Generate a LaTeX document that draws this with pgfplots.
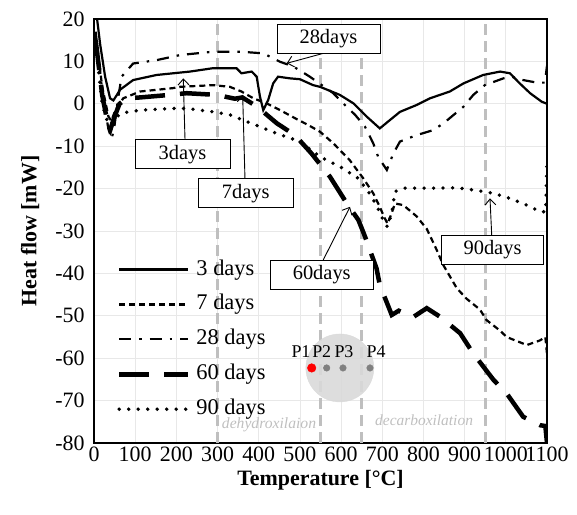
\documentclass[border=0pt]{standalone}
\usepackage{fontspec}
\setmainfont{Liberation Serif}
\usepackage{pgfplots}
\pgfplotsset{compat=1.18}
\usetikzlibrary{arrows.meta}

\pgfplotstableread{
x y
5 22
15 14
27 6.4
39 1.3
47 0.8
55 2.0
63 3.3
95 5.6
152 6.8
233 7.6
289 8.4
346 8.4
358 7.2
383 7.6
395 6.4
403 1.7
411 -1.5
423 0.9
435 4.8
447 6.4
476 6.0
500 5.8
532 4.4
549 4.0
597 2.1
630 0.1
662 -3.0
694 -5.8
719 -3.8
743 -1.9
783 -0.3
816 1.3
840 2.1
864 2.9
897 4.8
945 6.8
986 7.6
1010 7.2
1034 4.8
1059 2.5
1087 0.5
1100 0
}\dthree

\pgfplotstableread{
x y
4 16
20 4
35 -3
42 -4
52 -1.5
71 1.3
112 2.9
192 3.7
209 4.0
290 4.4
330 4.0
358 2.9
387 1.3
419 0.1
452 -1.5
492 -3.6
520 -5.0
549 -6.6
581 -9.3
621 -13.3
654 -17.6
678 -21.1
694 -24.3
705 -26.8
713 -28.3
722 -26.0
731 -23.5
751 -23.9
783 -26.5
808 -29.5
830 -34.0
848 -38.0
881 -43.5
905 -46.0
937 -48.5
953 -51.0
986 -53.5
1002 -55.0
1051 -56.9
1083 -55.8
1096 -55.0
1100 -59
}\dseven

\pgfplotstableread{
x y
4 17
20 3
35 -6
43 -8.3
50 -5
58 1
67 6.4
95 9.5
152 10.3
209 11.5
290 12.3
354 12.3
411 11.9
452 9.9
484 8.8
524 6.4
581 2.5
605 0.1
634 -2.6
658 -5.4
678 -9.3
690 -12.5
711 -15.6
727 -11.7
743 -8.9
783 -7.4
824 -6.2
850 -4.5
897 -0.7
921 2.1
949 4.4
994 6.0
1014 6.4
1042 5.6
1075 5.0
1095 5.0
1100 9
}\dtwentyeight

\pgfplotstableread{
x y
4 15
20 2
32 -4
40 -6
50 -3
62 0
79 1.3
112 1.5
184 2.1
225 2.5
298 2.1
342 1.2
360 1.5
385 0
411 -1.9
444 -4.6
488 -7.4
528 -11.7
573 -17.2
614 -23.5
642 -27.4
658 -31.3
686 -38.8
694 -42.7
723 -49.8
740 -48.8
775 -50.3
808 -48.2
840 -50.2
889 -54.1
921 -58.9
970 -65.1
1002 -68.3
1042 -73.8
1083 -75.8
1096 -76
1100 -80
}\dsixty

\pgfplotstableread{
x y
4 14
20 0
32 -4
40 -5
50 -3.5
67 -2.2
112 -1.5
192 -1.1
225 -1.1
290 -1.9
330 -2.6
371 -4.2
403 -5.4
444 -7.0
500 -8.9
549 -12.5
597 -14.8
642 -17.6
666 -20.7
686 -23.9
702 -27.4
712 -29.0
723 -25.8
731 -20.7
751 -19.9
824 -19.9
881 -19.8
921 -20.3
945 -20.7
970 -21.1
1010 -22.3
1051 -23.9
1083 -25.4
1097 -25.5
1100 -13
}\dninety

\begin{document}
\begin{tikzpicture}
\useasboundingbox (-94bp,-72bp) rectangle (483bp,443bp);
\begin{axis}[
  at={(0bp,0bp)}, anchor=south west,
  width=453bp, height=424bp, scale only axis,
  xmin=0, xmax=1100, ymin=-80, ymax=20,
  xtick={0,100,...,1100}, ytick={-80,-70,...,20},
  grid=major, major grid style={draw=black!9, line width=0.8bp},
  axis line style={line width=1.3bp},
  major tick length=0pt,
  clip marker paths=true,
  tick label style={font=\fontsize{22}{26}\selectfont},
  yticklabel style={xshift=-6bp},
  /pgf/number format/assume math mode=true,
  /pgf/number format/1000 sep={},
  xlabel={Temperature [°C]},
  ylabel={Heat flow [mW]},
  label style={font=\fontsize{22}{26}\selectfont\bfseries},
  xlabel style={at={(axis description cs:0.5,-0.087)}, anchor=center},
  ylabel style={at={(axis description cs:-0.141,0.5)}, anchor=center},
  legend style={draw=none, fill=none, at={(axis cs:48,-36.1)}, anchor=north west,
    font=\fontsize{22.5}{26}\selectfont,
    nodes={inner sep=0bp, text height=16bp, text depth=5bp},
    row sep=13.9bp, column sep=6bp},
  legend image code/.code={\draw[#1] (0bp,0bp) -- (69bp,0bp);},
  legend cell align=left,
]
% gray region lines
\addplot[forget plot, draw=black!25, line width=3bp, dash pattern=on 11bp off 6bp] coordinates {(300,-80) (300,20)};
\addplot[forget plot, draw=black!25, line width=3bp, dash pattern=on 11bp off 6bp] coordinates {(550,-80) (550,20)};
\addplot[forget plot, draw=black!25, line width=3bp, dash pattern=on 11bp off 6bp] coordinates {(650,-80) (650,20)};
\addplot[forget plot, draw=black!25, line width=3bp, dash pattern=on 11bp off 6bp] coordinates {(950,-80) (950,20)};
% circle
\addplot[forget plot, only marks, mark=*, mark size=34bp, mark options={fill=black!15, draw=black!15, opacity=0.9}] coordinates {(597,-62.3)};
\addplot[forget plot, only marks, mark=*, mark size=4.3bp, mark options={fill=red, draw=red}] coordinates {(528.6,-62.3)};
\addplot[forget plot, only marks, mark=*, mark size=3.3bp, mark options={fill=black!50, draw=black!50}] coordinates {(565,-62.3) (604.6,-62.3) (670.2,-62.3)};

\addplot[black, line width=2.2bp] table {\dthree};
\addlegendentry{3 days}
\addplot[black, line width=2.2bp, dash pattern=on 6bp off 4bp] table {\dseven};
\addlegendentry{7 days}
\addplot[black, line width=2.2bp, dash pattern=on 12bp off 8bp on 2.5bp off 8bp] table {\dtwentyeight};
\addlegendentry{28 days}
\addplot[black, line width=4.5bp, dash pattern=on 30bp off 15bp] table {\dsixty};
\addlegendentry{60 days}
\addplot[black, line width=3.8bp, line cap=round, dash pattern=on 0bp off 9.5bp] table {\dninety};
\addlegendentry{90 days}

% region labels
\node[font=\fontsize{15.7}{18}\selectfont\itshape, text=black!25] at (axis cs:425,-75.8) {dehydroxilaion};
\node[font=\fontsize{15.5}{18}\selectfont\itshape, text=black!25] at (axis cs:801.5,-74.7) {decarboxilation};
% P labels
\node[font=\fontsize{18}{20}\selectfont] at (axis cs:502.6,-58.5) {P1};
\node[font=\fontsize{18}{20}\selectfont] at (axis cs:553,-58.5) {P2};
\node[font=\fontsize{18}{20}\selectfont] at (axis cs:607,-58.5) {P3};
\node[font=\fontsize{18}{20}\selectfont] at (axis cs:685,-58.5) {P4};

% annotations
\tikzset{ann/.style={draw=black, line width=0.9bp, fill=white, font=\fontsize{20.5}{24}\selectfont, inner sep=0bp, minimum height=29bp},
         arr/.style={draw=black, line width=0.9bp, -{Straight Barb[length=6bp,width=11bp]}}}
\draw[arr] (axis cs:556.8,11.9) -- (axis cs:468,9.55);
\node[ann, minimum width=103bp] at (axis cs:569.4,15.3) {28days};
\draw[arr] (axis cs:221,-8.5) -- (axis cs:216.8,6.0);
\node[ann, minimum width=95bp] at (axis cs:214.9,-11.9) {3days};
\draw[arr] (axis cs:366.7,-18.0) -- (axis cs:361,2.1);
\node[ann, minimum width=95bp] at (axis cs:368.6,-21.1) {7days};
\draw[arr] (axis cs:556.8,-36.8) -- (axis cs:621.6,-24.3);
\node[ann, minimum width=103bp] at (axis cs:553,-40.4) {60days};
\draw[arr] (axis cs:965.7,-30.9) -- (axis cs:961.6,-22.3);
\node[ann, minimum width=102bp] at (axis cs:967.7,-34.5) {90days};
\end{axis}
\end{tikzpicture}
\end{document}
